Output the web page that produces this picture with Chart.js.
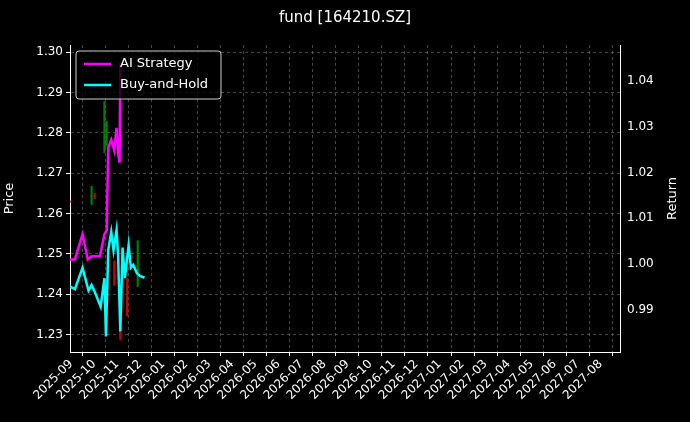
<!DOCTYPE html>
<html><head><meta charset="utf-8">
<script src="https://cdn.jsdelivr.net/npm/chart.js@4"></script>
<style>html,body{margin:0;background:#000}#wrap{width:690px;height:422px}</style>
</head><body><div id="wrap"><canvas id="c"></canvas></div>
<script>
const stratDates = ['2025-08-30','2025-09-06','2025-09-16','2025-09-23','2025-09-28','2025-10-09','2025-10-15','2025-10-18','2025-10-20','2025-10-24','2025-10-28','2025-10-31','2025-11-02','2025-11-04','2025-11-05'];
const stratValues = [1.0010,1.0010,1.0065,1.0010,1.0017,1.0017,1.0065,1.0074,1.0253,1.0271,1.0248,1.0297,1.0244,1.0221,1.0440];
const holdDates = ['2025-08-30','2025-09-06','2025-09-16','2025-09-24','2025-09-28','2025-10-02','2025-10-10','2025-10-15','2025-10-17','2025-10-20','2025-10-24','2025-10-27','2025-10-31','2025-11-02','2025-11-05','2025-11-08','2025-11-11','2025-11-16','2025-11-19','2025-11-22','2025-11-27','2025-12-01','2025-12-07'];
const holdValues = [0.9951,0.9945,0.9992,0.9942,0.9954,0.9940,0.9907,0.9969,0.9842,1.0030,1.0070,1.0030,1.0074,1.0021,0.9853,1.0036,0.9969,1.0041,0.9992,0.9998,0.9980,0.9974,0.9970];
const candleDates = ['2025-08-30','2025-09-28','2025-10-02','2025-10-15','2025-10-18','2025-10-28','2025-11-05','2025-11-14','2025-11-28'];
const candleLow = [1.2628,1.2622,1.2637,1.2751,1.2769,1.2422,1.2287,1.2346,1.2419];
const candleHigh = [1.2632,1.2668,1.2650,1.2878,1.2828,1.2483,1.2389,1.2440,1.2533];
const candleUp = [false,true,false,true,true,false,false,false,true];
const tickStart = [2025, 9];

const t0 = Date.UTC(2025, 8, 1);
const toM = s => (Date.parse(s + 'T00:00:00Z') - t0) / (86400000 * 30.44);
const monthLabel = v => {
  const m = tickStart[1] - 1 + Math.round(v);
  return `${tickStart[0] + Math.floor(m / 12)}-${String(m % 12 + 1).padStart(2, '0')}`;
};

const extras = {
  id: 'extras',
  afterDraw(chart) {
    const { ctx, chartArea: a } = chart;
    ctx.save();
    const x = a.left + 6, y = a.top + 6, w = 145, h = 48;
    ctx.fillStyle = 'rgba(0,0,0,0.8)';
    ctx.strokeStyle = '#ccc';
    ctx.lineWidth = 1;
    ctx.beginPath(); ctx.roundRect(x, y, w, h, 3); ctx.fill(); ctx.stroke();
    ctx.font = '13px "DejaVu Sans"';
    ctx.textBaseline = 'middle';
    [['AI Strategy', '#ff00ff'], ['Buy-and-Hold', '#00ffff']].forEach(([t, c], i) => {
      const yy = y + 13 + i * 21;
      ctx.strokeStyle = c; ctx.lineWidth = 2.5;
      ctx.beginPath(); ctx.moveTo(x + 8, yy); ctx.lineTo(x + 35, yy); ctx.stroke();
      ctx.fillStyle = '#fff'; ctx.fillText(t, x + 44, yy);
    });
    ctx.font = '15px "DejaVu Sans"';
    ctx.textAlign = 'center';
    ctx.fillText('fund [164210.SZ]', 345, 18);
    ctx.font = '13px "DejaVu Sans"';
    ctx.translate(673, (a.top + a.bottom) / 2);
    ctx.rotate(-Math.PI / 2);
    ctx.fillText('Return', 0, 0);
    ctx.restore();
  }
};

const grid = { color: 'rgba(140,140,140,0.5)', drawTicks: true, tickColor: '#fff', tickLength: 4 };
const border = { color: '#fff', dash: [3, 3] };
const font = { size: 12, family: 'DejaVu Sans' };
new Chart(document.getElementById('c'), {
  data: {
    datasets: [
      { type: 'line', label: 'AI Strategy', yAxisID: 'yr', data: stratDates.map((d, i) => ({ x: toM(d), y: stratValues[i] })), borderColor: '#ff00ff', borderWidth: 2.5, pointRadius: 0, tension: 0 },
      { type: 'line', label: 'Buy-and-Hold', yAxisID: 'yr', data: holdDates.map((d, i) => ({ x: toM(d), y: holdValues[i] })), borderColor: '#00ffff', borderWidth: 2.5, pointRadius: 0, tension: 0 },
      { type: 'bar', label: 'candles', yAxisID: 'y', data: candleDates.map((d, i) => ({ x: toM(d), y: [candleLow[i], candleHigh[i]] })), backgroundColor: candleUp.map(u => u ? '#008000' : '#cc0000'), barThickness: 1.5, order: 5 }
    ]
  },
  options: {
    responsive: true, maintainAspectRatio: false, animation: false,
    layout: { padding: { top: 45, right: 0, left: 0, bottom: 0 } },
    plugins: { legend: { display: false }, tooltip: { enabled: false } },
    scales: {
      x: { type: 'linear', min: -0.05, max: 23.84, offset: false, grid, border,
        afterFit: s => { s.height = 70; },
        afterBuildTicks: s => { s.ticks = Array.from({ length: 24 }, (_, i) => ({ value: i })); },
        ticks: { color: '#fff', font, autoSkip: false, minRotation: 45, maxRotation: 45, padding: 1, callback: monthLabel } },
      y: { position: 'left', min: 1.2257, max: 1.3018, grid, border,
        afterFit: s => { s.width = 70; },
        afterBuildTicks: s => { s.ticks = [1.23,1.24,1.25,1.26,1.27,1.28,1.29,1.30].map(v => ({ value: v })); },
        title: { display: true, text: 'Price', color: '#fff', font: { size: 13, family: 'DejaVu Sans' }, padding: 2 },
        ticks: { color: '#fff', font, padding: 3, callback: v => v.toFixed(2) } },
      yr: { position: 'right', min: 0.9808, max: 1.0478, grid: { display: false, drawTicks: true, tickColor: '#fff', tickLength: 4 },
        border: { color: '#fff' },
        afterFit: s => { s.width = 70; },
        afterBuildTicks: s => { s.ticks = [0.99,1.00,1.01,1.02,1.03,1.04].map(v => ({ value: v })); },
        ticks: { color: '#fff', font, padding: 3, callback: v => v.toFixed(2) } }
    }
  },
  plugins: [extras]
});
</script></body></html>
